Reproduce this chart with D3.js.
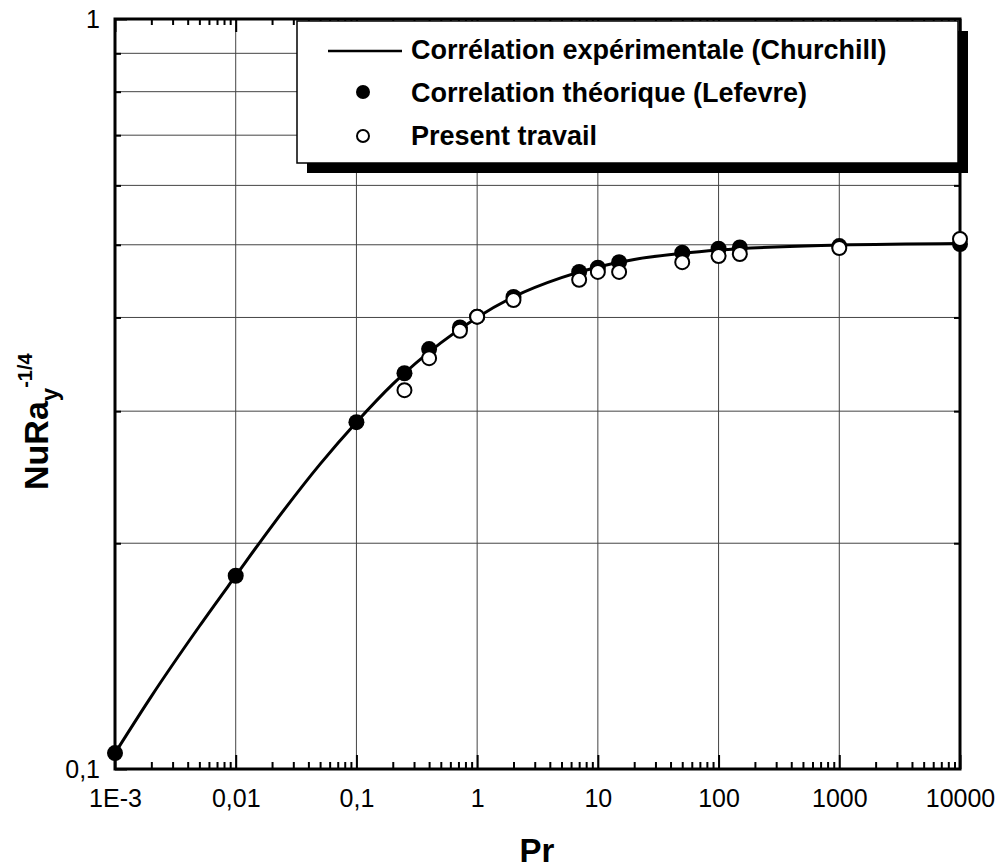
<!DOCTYPE html>
<html>
<head>
<meta charset="utf-8">
<script src="https://cdnjs.cloudflare.com/ajax/libs/d3/7.8.5/d3.min.js"></script>
<title>NuRa vs Pr</title>
<style>
body {
	margin: 0;
	background: white;
}
text {
	font-family: "Liberation Sans", Arial, sans-serif;
	fill: black;
}
.grid line {
	stroke: #444;
	stroke-width: 1;
}
.ticks path {
	display: none;
}
.ticks line {
	stroke: black;
	stroke-width: 2;
}
</style>
</head>
<body>
<div id="graph"></div>
<script>

// -- data

var prMajor = [1e-3, 1e-2, 0.1, 1, 10, 100, 1000, 10000];
var prLabels = ["1E-3", "0,01", "0,1", "1", "10", "100", "1000", "10000"];
var nuMajor = [0.1, 1];
var nuLabels = ["0,1", "1"];
var nuGrid = [0.2, 0.3, 0.4, 0.5, 0.6, 0.7, 0.8, 0.9];

// Churchill correlation curve
var churchillPr = [0.001, 0.002, 0.005, 0.01, 0.02, 0.05, 0.1, 0.2, 0.5, 1, 2, 5, 10, 20, 50, 100, 1000, 10000];
var churchillNu = [0.105, 0.125, 0.155, 0.181, 0.211, 0.255, 0.290, 0.326, 0.370, 0.400, 0.426, 0.452, 0.467, 0.478, 0.487, 0.492, 0.4995, 0.502];

// Lefevre (filled)
var lefevrePr = [0.001, 0.01, 0.1, 0.25, 0.4, 0.72, 1, 2, 7, 10, 15, 50, 100, 150, 1000, 10000];
var lefevreNu = [0.105, 0.181, 0.290, 0.337, 0.363, 0.388, 0.401, 0.426, 0.460, 0.466, 0.474, 0.488, 0.494, 0.496, 0.498, 0.501];

// present work (open)
var presentPr = [0.25, 0.4, 0.72, 1, 2, 7, 10, 15, 50, 100, 150, 1000, 10000];
var presentNu = [0.320, 0.353, 0.384, 0.401, 0.422, 0.449, 0.460, 0.460, 0.474, 0.483, 0.486, 0.495, 0.509];

var legendLabels = [
	"Corrélation expérimentale (Churchill)",
	"Correlation théorique (Lefevre)",
	"Present travail"
];

// -- setting

var margin = { top: 19, right: 40, bottom: 99, left: 115 },
	width = 1000 - margin.left - margin.right,
	height = 868 - margin.top - margin.bottom;

var svg = d3.select("#graph")
	.append("svg")
		.attr("width", 1000)
		.attr("height", 868)
	.append("g")
		.attr("transform", "translate(" + margin.left + "," + margin.top + ")");

var x = d3.scaleLog()
	.domain([1e-3, 1e4])
	.range([0, width]);

var y = d3.scaleLog()
	.domain([0.1, 1])
	.range([height, 0]);

var prMinor = x.ticks().filter(d => prMajor.indexOf(d) < 0);

// -- grid

svg.append("g")
	.attr("class", "grid")
	.selectAll("line")
	.data(prMajor.slice(1, -1))
	.enter()
	.append("line")
		.attr("x1", d => x(d))
		.attr("x2", d => x(d))
		.attr("y1", 0)
		.attr("y2", height);

svg.append("g")
	.attr("class", "grid")
	.selectAll("line")
	.data(nuGrid)
	.enter()
	.append("line")
		.attr("x1", 0)
		.attr("x2", width)
		.attr("y1", d => y(d))
		.attr("y2", d => y(d));

// -- axes (inward ticks)

svg.append("g")
	.attr("class", "ticks")
	.attr("transform", "translate(0," + height + ")")
	.call(d3.axisBottom(x).tickValues(prMinor).tickSize(-7).tickFormat(""));

svg.append("g")
	.attr("class", "ticks")
	.attr("id", "xaxis")
	.attr("transform", "translate(0," + height + ")")
	.call(d3.axisBottom(x).tickValues(prMajor).tickSize(-14).tickPadding(20)
		.tickFormat((d, i) => prLabels[i]));

svg.append("g")
	.attr("class", "ticks")
	.call(d3.axisTop(x).tickValues(prMinor).tickSize(-6).tickFormat(""));

svg.append("g")
	.attr("class", "ticks")
	.call(d3.axisTop(x).tickValues(prMajor).tickSize(-13).tickFormat(""));

svg.append("g")
	.attr("class", "ticks")
	.call(d3.axisLeft(y).tickValues(nuGrid).tickSize(-6).tickFormat(""));

svg.append("g")
	.attr("class", "ticks")
	.attr("id", "yaxis")
	.call(d3.axisLeft(y).tickValues(nuMajor).tickSize(-12).tickPadding(15)
		.tickFormat((d, i) => nuLabels[i]));

svg.append("g")
	.attr("class", "ticks")
	.attr("transform", "translate(" + width + ",0)")
	.call(d3.axisRight(y).tickValues(nuGrid).tickSize(-6).tickFormat(""));

svg.selectAll("#xaxis text, #yaxis text")
	.attr("font-size", 25)
	.attr("font-family", null);

// frame
svg.append("rect")
	.attr("width", width)
	.attr("height", height)
	.attr("fill", "none")
	.attr("stroke", "black")
	.attr("stroke-width", 3);

// -- series

var line = d3.line()
	.x(d => x(d[0]))
	.y(d => y(d[1]))
	.curve(d3.curveMonotoneX);

svg.append("path")
	.datum(d3.zip(churchillPr, churchillNu))
	.attr("fill", "none")
	.attr("stroke", "black")
	.attr("stroke-width", 3)
	.attr("d", line);

svg.append("g")
	.selectAll("circle")
	.data(d3.zip(lefevrePr, lefevreNu))
	.enter()
	.append("circle")
		.attr("cx", d => x(d[0]))
		.attr("cy", d => y(d[1]))
		.attr("r", 8)
		.attr("fill", "black");

svg.append("g")
	.selectAll("circle")
	.data(d3.zip(presentPr, presentNu))
	.enter()
	.append("circle")
		.attr("cx", d => x(d[0]))
		.attr("cy", d => y(d[1]))
		.attr("r", 7)
		.attr("fill", "white")
		.attr("stroke", "black")
		.attr("stroke-width", 2);

// -- axis titles

svg.append("text")
	.attr("x", 537 - margin.left)
	.attr("y", 862 - margin.top)
	.attr("text-anchor", "middle")
	.attr("font-size", 33)
	.attr("font-weight", "bold")
	.text("Pr");

var ytitle = svg.append("text")
	.attr("transform", "translate(" + (48 - margin.left) + "," + (490 - margin.top) + ") rotate(-90)")
	.attr("font-weight", "bold")
	.attr("font-size", 34);
ytitle.append("tspan").text("NuRa");
ytitle.append("tspan").attr("font-size", 24).attr("dy", 10).text("y");
ytitle.append("tspan").attr("font-size", 20).attr("dy", -26).text("-1/4");

// -- legend

var legend = d3.select("svg").append("g");

legend.append("rect")
	.attr("x", 307).attr("y", 31)
	.attr("width", 661).attr("height", 142)
	.attr("fill", "black");

legend.append("rect")
	.attr("x", 297).attr("y", 21)
	.attr("width", 661).attr("height", 142)
	.attr("fill", "white")
	.attr("stroke", "black")
	.attr("stroke-width", 1.5);

legend.append("line")
	.attr("x1", 328).attr("x2", 402)
	.attr("y1", 51).attr("y2", 51)
	.attr("stroke", "black")
	.attr("stroke-width", 2.5);

legend.append("circle")
	.attr("cx", 363).attr("cy", 92).attr("r", 7)
	.attr("fill", "black");

legend.append("circle")
	.attr("cx", 363).attr("cy", 136).attr("r", 6)
	.attr("fill", "white")
	.attr("stroke", "black")
	.attr("stroke-width", 2);

legend.selectAll("text")
	.data(legendLabels)
	.enter()
	.append("text")
		.attr("x", 411)
		.attr("y", (d, i) => 59 + i * 43)
		.attr("font-size", 27)
		.attr("font-weight", "bold")
		.text(d => d);

</script>
</body>
</html>
